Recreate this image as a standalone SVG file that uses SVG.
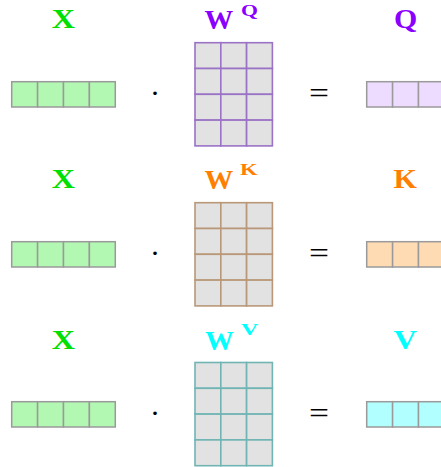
<svg xmlns="http://www.w3.org/2000/svg" width="441" height="467" viewBox="0 0 441 467">
<style>
.lbl{font-family:"Liberation Serif","Times New Roman",serif;font-weight:bold;font-size:28px}
.sup{font-family:"Liberation Serif","Times New Roman",serif;font-weight:bold;font-size:17px}
.op{font-family:"Liberation Serif","Times New Roman",serif;font-size:30px;fill:#000;text-anchor:middle}
.vc{stroke:#9a9a9a;stroke-width:1.5}
.mc{fill:#e2e2e2;stroke-width:1.6}
.x{fill:#b2f7b2}
.q{fill:#eddcff}
.k{fill:#ffdbb4}
.v{fill:#b2ffff}
.mq{stroke:#9a72c6}
.mk{stroke:#b89878}
.mv{stroke:#70b4b4}
</style>
<defs>
<g id="vec4">
<rect class="vc" x="0" y="0" width="25.9" height="25.3"/>
<rect class="vc" x="25.9" y="0" width="25.9" height="25.3"/>
<rect class="vc" x="51.8" y="0" width="25.9" height="25.3"/>
<rect class="vc" x="77.7" y="0" width="25.9" height="25.3"/>
</g>
<g id="vec3">
<rect class="vc" x="0" y="0" width="25.9" height="25.3"/>
<rect class="vc" x="25.9" y="0" width="25.9" height="25.3"/>
<rect class="vc" x="51.8" y="0" width="25.9" height="25.3"/>
</g>
<g id="mat">
<rect class="mc" x="0" y="0" width="25.8" height="25.8"/>
<rect class="mc" x="25.8" y="0" width="25.8" height="25.8"/>
<rect class="mc" x="51.6" y="0" width="25.8" height="25.8"/>
<rect class="mc" x="0" y="25.8" width="25.8" height="25.8"/>
<rect class="mc" x="25.8" y="25.8" width="25.8" height="25.8"/>
<rect class="mc" x="51.6" y="25.8" width="25.8" height="25.8"/>
<rect class="mc" x="0" y="51.6" width="25.8" height="25.8"/>
<rect class="mc" x="25.8" y="51.6" width="25.8" height="25.8"/>
<rect class="mc" x="51.6" y="51.6" width="25.8" height="25.8"/>
<rect class="mc" x="0" y="77.4" width="25.8" height="25.8"/>
<rect class="mc" x="25.8" y="77.4" width="25.8" height="25.8"/>
<rect class="mc" x="51.6" y="77.4" width="25.8" height="25.8"/>
</g>
</defs>

<!-- Row 1: Q -->
<g id="row-q">
<g id="x1">
<text class="lbl" x="51.8" y="28" textLength="23.3" lengthAdjust="spacingAndGlyphs" fill="#00e000">X</text>
<use href="#vec4" x="11.7" y="81.7" class="x"/>
</g>
<text class="op" x="155" y="103">·</text>
<g id="wq">
<text class="lbl" x="204.5" y="28.5" textLength="28.8" lengthAdjust="spacingAndGlyphs" fill="#8a00ff">W</text>
<text class="sup" x="241" y="15.5" textLength="17" lengthAdjust="spacingAndGlyphs" fill="#8a00ff">Q</text>
<use href="#mat" x="195" y="42.7" class="mq"/>
</g>
<text class="op" x="319" y="103" textLength="20" lengthAdjust="spacingAndGlyphs">=</text>
<g id="q">
<text class="lbl" x="394" y="28" textLength="23.3" lengthAdjust="spacingAndGlyphs" fill="#8a00ff">Q</text>
<use href="#vec3" x="366.7" y="81.7" class="q"/>
</g>
</g>

<!-- Row 2: K -->
<g id="row-k">
<g id="x2">
<text class="lbl" x="51.8" y="188" textLength="23.3" lengthAdjust="spacingAndGlyphs" fill="#00e000">X</text>
<use href="#vec4" x="11.7" y="241.7" class="x"/>
</g>
<text class="op" x="155" y="263">·</text>
<g id="wk">
<text class="lbl" x="204.5" y="188.5" textLength="28.8" lengthAdjust="spacingAndGlyphs" fill="#ff8000">W</text>
<text class="sup" x="240" y="175.3" textLength="17.7" lengthAdjust="spacingAndGlyphs" fill="#ff8000">K</text>
<use href="#mat" x="195" y="202.7" class="mk"/>
</g>
<text class="op" x="319" y="263" textLength="20" lengthAdjust="spacingAndGlyphs">=</text>
<g id="k">
<text class="lbl" x="393.5" y="187.5" textLength="23.4" lengthAdjust="spacingAndGlyphs" fill="#ff8000">K</text>
<use href="#vec3" x="366.7" y="241.7" class="k"/>
</g>
</g>

<!-- Row 3: V -->
<g id="row-v">
<g id="x3">
<text class="lbl" x="51.8" y="348.5" textLength="23.3" lengthAdjust="spacingAndGlyphs" fill="#00e000">X</text>
<use href="#vec4" x="11.7" y="401.7" class="x"/>
</g>
<text class="op" x="155" y="423">·</text>
<g id="wv">
<text class="lbl" x="205" y="349.8" textLength="28.8" lengthAdjust="spacingAndGlyphs" fill="#00ffff">W</text>
<text class="sup" x="240.7" y="335" textLength="17.6" lengthAdjust="spacingAndGlyphs" fill="#00ffff">V</text>
<use href="#mat" x="195" y="362.5" class="mv"/>
</g>
<text class="op" x="319" y="423" textLength="20" lengthAdjust="spacingAndGlyphs">=</text>
<g id="v">
<text class="lbl" x="393.5" y="348.5" textLength="23.4" lengthAdjust="spacingAndGlyphs" fill="#00ffff">V</text>
<use href="#vec3" x="366.7" y="401.7" class="v"/>
</g>
</g>
</svg>
